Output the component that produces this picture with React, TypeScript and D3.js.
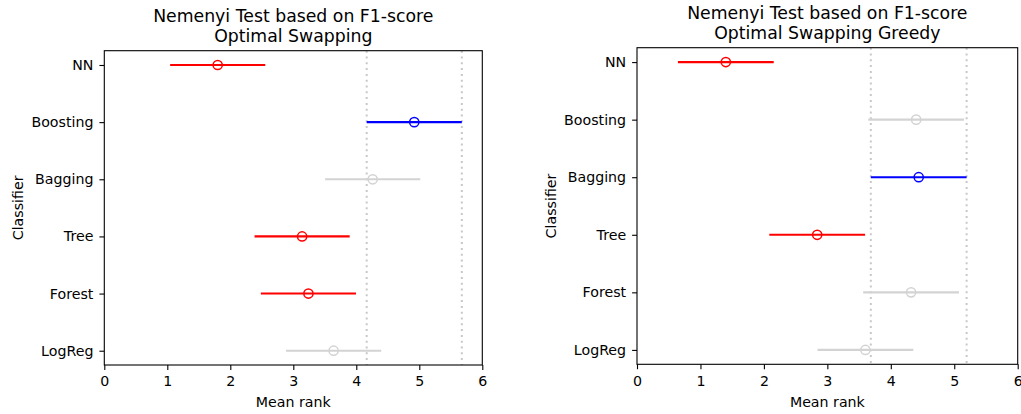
import { useEffect, useRef } from "react";
import * as d3 from "d3";

// classifiers, top to bottom
const classifiers = ["NN", "Boosting", "Bagging", "Tree", "Forest", "LogReg"];
// mean ranks per panel
const meansSwapping = [1.8, 4.92, 4.26, 3.14, 3.24, 3.64];
const meansGreedy = [1.4, 4.4, 4.44, 2.84, 4.32, 3.6];
const criticalDifference = 1.51;
const selectedSwapping = "Boosting";
const selectedGreedy = "Bagging";
const titles = [
  ["Nemenyi Test based on F1-score", "Optimal Swapping"],
  ["Nemenyi Test based on F1-score", "Optimal Swapping Greedy"],
];
const xTicks = [0, 1, 2, 3, 4, 5, 6];

const W = 1021;
const H = 414;
const FONT = "DejaVu Sans, sans-serif";
const FS = 14.2;
const TITLE_FS = 17.3;

const App = () => {
  const ref = useRef<SVGSVGElement>(null);

  useEffect(() => {
    document.body.style.margin = "0";
    const svg = d3.select(ref.current).attr("width", W).attr("height", H);
    svg.selectAll("*").remove();

    const panels = [
      { box: { left: 104.3, right: 482.3, top: 50.7, bottom: 365 }, means: meansSwapping, selected: selectedSwapping, title: titles[0] },
      { box: { left: 637, right: 1017.7, top: 47.7, bottom: 364.3 }, means: meansGreedy, selected: selectedGreedy, title: titles[1] },
    ];

    panels.forEach((p) => {
      const { left, right, top, bottom } = p.box;
      const half = criticalDifference / 2;

      const x = d3.scaleLinear().domain([0, 6]).range([left, right]);
      const y = d3.scalePoint<string>().domain(classifiers).range([top, bottom]).padding(0.25);

      const g = svg.append("g").style("font-family", FONT);

      const selMean = p.means[classifiers.indexOf(p.selected)];
      const lo = selMean - half;
      const hi = selMean + half;

      // dotted lines at the bounds of the selected interval
      g.selectAll("line.cd")
        .data([lo, hi])
        .join("line")
        .attr("x1", (d) => x(d))
        .attr("x2", (d) => x(d))
        .attr("y1", top)
        .attr("y2", bottom)
        .attr("stroke", "#c8c8c8")
        .attr("stroke-width", 2)
        .attr("stroke-dasharray", "2,3.8");

      const colorOf = (name: string, m: number) => {
        if (name === p.selected) return "#0000ff";
        if (m + half < lo || m - half > hi) return "#ff0000";
        return "#d3d3d3";
      };

      const rows = classifiers.map((c, i) => ({ name: c, mean: p.means[i] }));

      g.selectAll("line.bar")
        .data(rows)
        .join("line")
        .attr("x1", (d) => x(d.mean - half))
        .attr("x2", (d) => x(d.mean + half))
        .attr("y1", (d) => y(d.name)!)
        .attr("y2", (d) => y(d.name)!)
        .attr("stroke", (d) => colorOf(d.name, d.mean))
        .attr("stroke-width", 2.1);

      g.selectAll("circle")
        .data(rows)
        .join("circle")
        .attr("cx", (d) => x(d.mean))
        .attr("cy", (d) => y(d.name)!)
        .attr("r", 4.6)
        .attr("fill", "none")
        .attr("stroke", (d) => colorOf(d.name, d.mean))
        .attr("stroke-width", 1.5);

      // axes
      const xa = g
        .append("g")
        .attr("transform", `translate(0,${bottom})`)
        .call(d3.axisBottom(x).tickValues(xTicks).tickFormat(d3.format("d")).tickSize(4.9).tickPadding(6.3));
      const ya = g
        .append("g")
        .attr("transform", `translate(${left},0)`)
        .call(d3.axisLeft(y).tickSize(4.9).tickPadding(6));
      [xa, ya].forEach((a) => {
        a.select(".domain").remove();
        a.selectAll("line").attr("stroke", "#000").attr("stroke-width", 1.1);
        a.selectAll("text").attr("fill", "#000").style("font-size", `${FS}px`).style("font-family", FONT);
      });

      // spines
      g.append("rect")
        .attr("x", left)
        .attr("y", top)
        .attr("width", right - left)
        .attr("height", bottom - top)
        .attr("fill", "none")
        .attr("stroke", "#000")
        .attr("stroke-width", 1.1);

      // labels
      g.append("text")
        .attr("x", (left + right) / 2)
        .attr("y", 406.5)
        .attr("text-anchor", "middle")
        .style("font-size", `${FS}px`)
        .text("Mean rank");

      g.append("text")
        .attr("transform", `translate(${left - 81.5},${(top + bottom) / 2}) rotate(-90)`)
        .attr("text-anchor", "middle")
        .style("font-size", `${FS}px`)
        .text("Classifier");

      g.selectAll("text.title")
        .data(p.title)
        .join("text")
        .attr("x", (left + right) / 2)
        .attr("y", (_, i) => top - 28.5 + i * 20)
        .attr("text-anchor", "middle")
        .style("font-size", `${TITLE_FS}px`)
        .text((d) => d);
    });
  }, []);

  return <svg ref={ref} style={{ display: "block" }} />;
};

export default App;
